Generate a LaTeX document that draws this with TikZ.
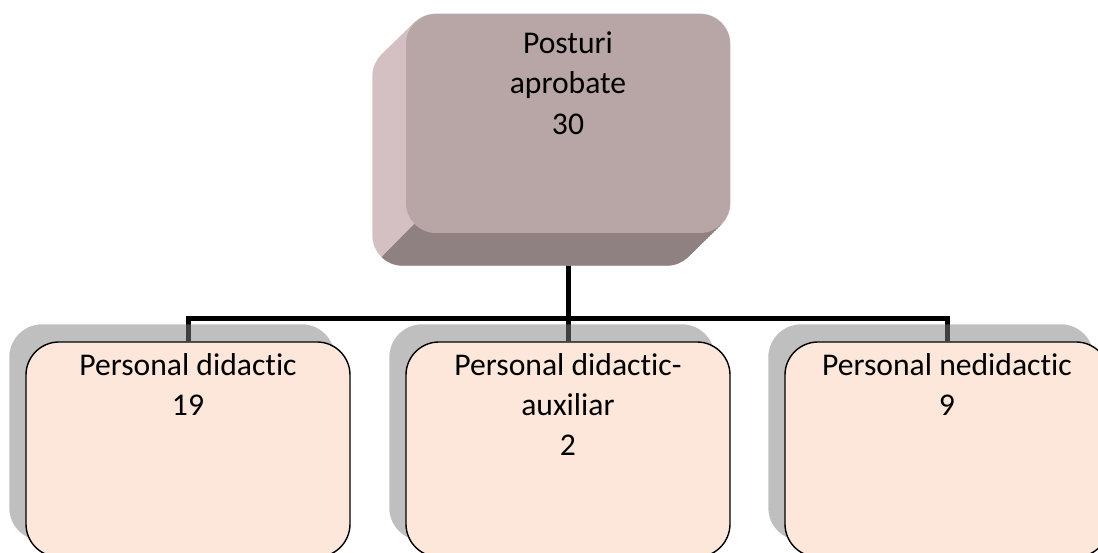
\documentclass[tikz,border=0pt]{standalone}
\usepackage{fontspec}
\setmainfont{Carlito}[Ligatures=NoCommon]
\usetikzlibrary{positioning,backgrounds}

\definecolor{faceTop}{HTML}{B8A6A7}
\definecolor{sideLeft}{HTML}{D4C0C2}
\definecolor{sideBottom}{HTML}{8F8182}
\definecolor{unitFill}{HTML}{FCE7DA}

\tikzset{
  topface/.style={fill=faceTop,rounded corners=0.6cm,minimum width=6.48cm,minimum height=4.38cm,inner sep=0},
  unitbox/.style={draw=black,line width=0.8pt,fill=unitFill,rounded corners=0.66cm,minimum width=6.48cm,minimum height=4.3cm,inner sep=0},
  unitshadow/.style={fill=black!50,fill opacity=0.5,rounded corners=0.66cm},
  boxtext/.style={align=center,inner sep=0,font=\fontsize{18}{23}\selectfont,execute at begin node=\strut},
  link/.style={line width=0.1cm},
}

\begin{document}
\begin{tikzpicture}
% page frame
\useasboundingbox (0,0) rectangle (21.96,11.06);
\clip (0,0) rectangle (21.96,11.06);

% top box
\node[topface] (ap) at (11.36,8.59) {};
\node[boxtext,below=0.35cm of ap.north] (aptext) {Posturi\\aprobate\\30};

% staff boxes
\node[unitbox] (pd) at (3.76,2.07) {};
\node[boxtext,below=0.23cm of pd.north] (pdtext) {Personal didactic\\19};
\node[unitbox] (pda) at (11.36,2.07) {};
\node[boxtext,below=0.23cm of pda.north] (pdatext) {Personal didactic-\\auxiliar\\2};
\node[unitbox] (pn) at (18.94,2.07) {};
\node[boxtext,below=0.23cm of pn.north] (pntext) {Personal nedidactic\\9};

\begin{scope}[on background layer]
% connectors
\draw[link] (ap.south) -- ++(0,-1.7) coordinate (fork);
\draw[link] (fork) -- (pda.north);
\draw[link] (pd.north) |- (fork) -| (pn.north);

% shadows
\foreach \b in {pd,pda,pn}
  \fill[unitshadow] ([shift={(-0.32,0.34)}]\b.south west) rectangle ([shift={(-0.32,0.34)}]\b.north east);

% extruded body of the top box
\foreach \t in {0,0.05,...,1}
  \fill[sideLeft,rounded corners=0.6cm] ([shift={(-0.7*\t,-0.68*\t)}]ap.south west) rectangle ([shift={(-0.7*\t,-0.68*\t)}]ap.north east);
\begin{scope}
\clip ([shift={(0.18,0.18)}]ap.south west) -- ([shift={(-0.18,0.18)}]ap.south east)
  -- ++(-3,-3) -- ([shift={(-2.82,-2.82)}]ap.south west) -- cycle;
\foreach \t in {0,0.05,...,1}
  \fill[sideBottom,rounded corners=0.6cm] ([shift={(-0.7*\t,-0.68*\t)}]ap.south west) rectangle ([shift={(-0.7*\t,-0.68*\t)}]ap.north east);
\end{scope}
\end{scope}

\end{tikzpicture}
\end{document}
